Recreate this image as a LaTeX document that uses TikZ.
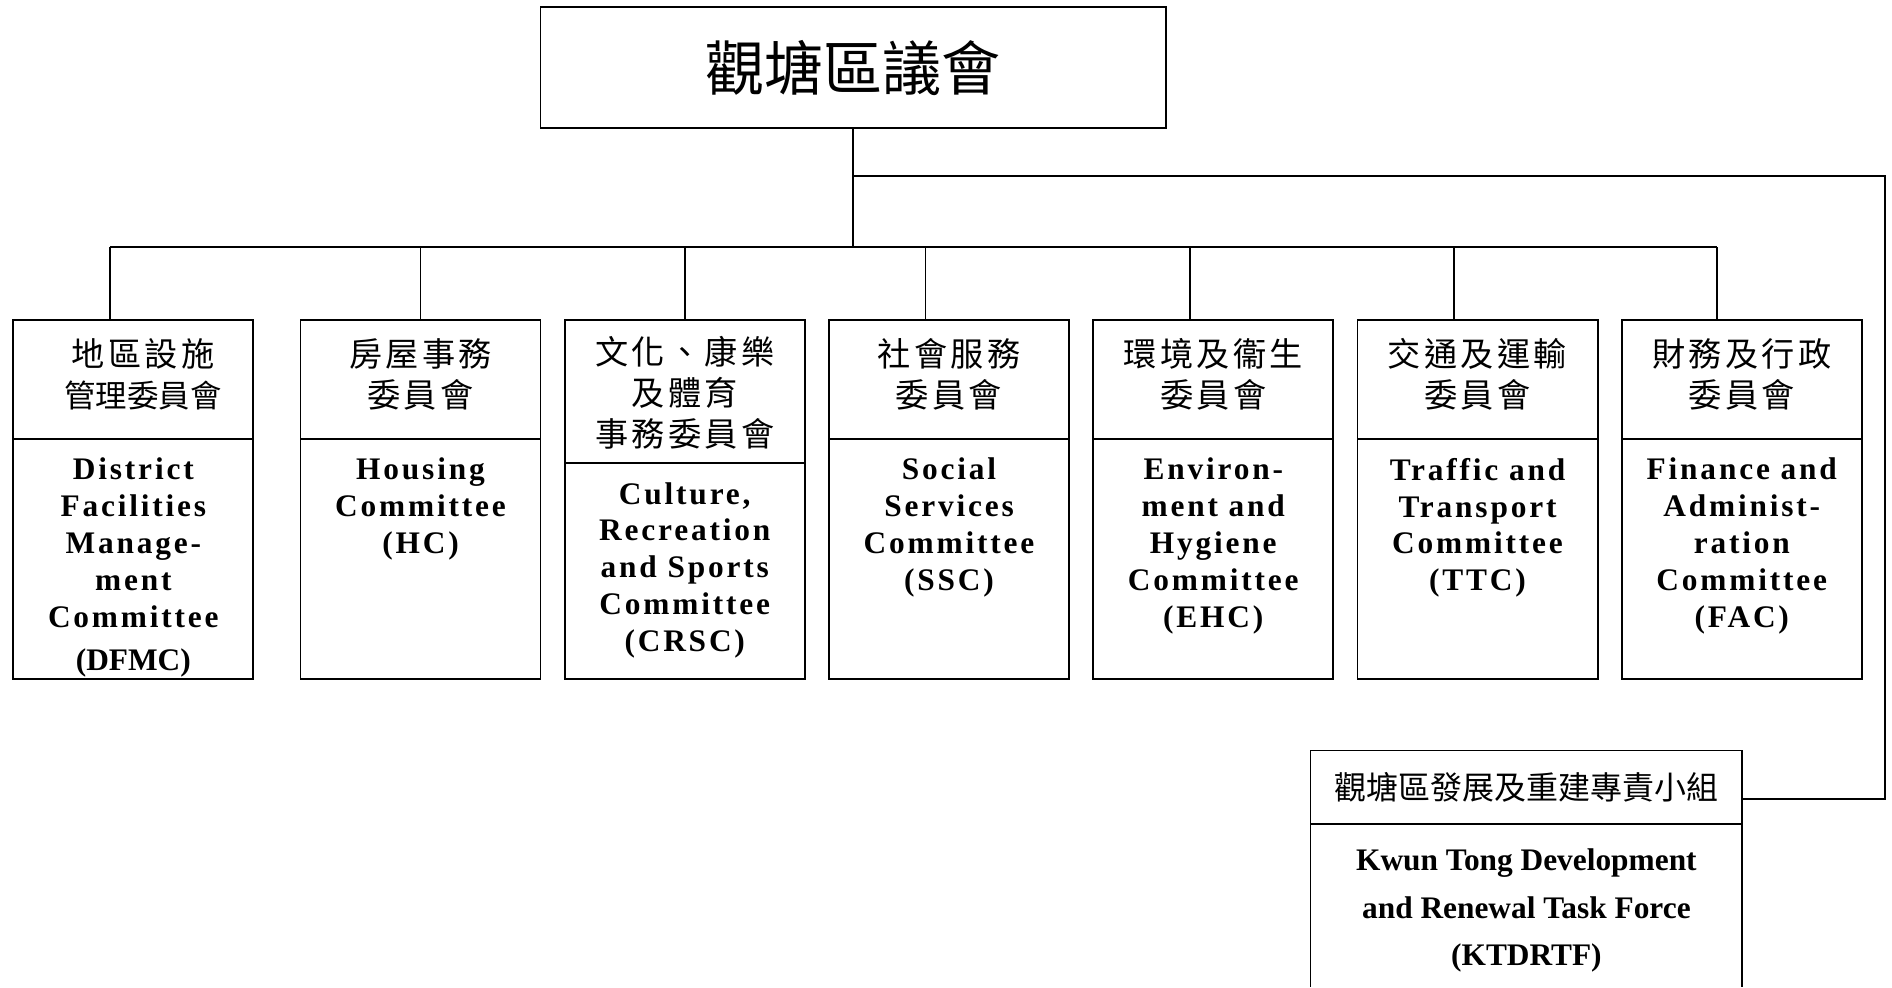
\documentclass[tikz,border=0pt]{standalone}
\usepackage{fontspec}
\setmainfont{Liberation Serif}
\newfontfamily\zhfont{Noto Sans CJK TC}
\newfontfamily\zhspaced[LetterSpace=10]{Noto Sans CJK TC}
\newfontfamily\enspaced[LetterSpace=9]{Liberation Serif}
\usetikzlibrary{positioning}

\begin{document}
\begin{tikzpicture}[
  x=1pt, y=-1pt, line width=1.5pt,
  head/.style={draw, outer sep=0pt, inner sep=0pt, minimum width=199pt,
               minimum height=99pt, align=center, text depth=11pt,
               font=\fontsize{27.5}{34}\selectfont\zhspaced},
  body/.style={draw, outer sep=0pt, minimum width=199pt, minimum height=199pt},
  entext/.style={anchor=north, inner sep=0pt, align=center,
                 font=\fontsize{26}{30.5}\selectfont\enspaced\bfseries}
]
  \useasboundingbox (0,0) rectangle (1568,818);

  % Council
  \node[draw, outer sep=0pt, minimum width=518pt, minimum height=100pt,
        font=\fontsize{49}{56}\selectfont\zhfont] (council) at (707,56) {觀塘區議會};

  % Committees (upper part)
  \node[head, anchor=north] (dfmc) at (110.5,265)
    {\hspace*{16pt}地區設施\\\hspace*{16pt}{\fontsize{26}{34}\selectfont\zhfont 管理委員會}};
  \node[head, right=39pt of dfmc.north east, anchor=north west] (hc) {房屋事務\\委員會};
  \node[head, minimum height=119pt, text depth=1pt, right=20pt of hc.north east,
        anchor=north west] (crsc) {文化、康樂\\及體育\\事務委員會};
  \node[head, right=20pt of crsc.north east, anchor=north west] (ssc) {社會服務\\委員會};
  \node[head, right=20pt of ssc.north east, anchor=north west] (ehc) {環境及衞生\\委員會};
  \node[head, right=20pt of ehc.north east, anchor=north west] (ttc) {交通及運輸\\委員會};
  \node[head, right=20pt of ttc.north east, anchor=north west] (fac) {財務及行政\\委員會};

  % Committees (lower part)
  \node[body, below=0pt of dfmc] (dfmcb) {};
  \node[body, below=0pt of hc] (hcb) {};
  \node[body, minimum height=179pt, below=0pt of crsc] (crscb) {};
  \node[body, below=0pt of ssc] (sscb) {};
  \node[body, below=0pt of ehc] (ehcb) {};
  \node[body, below=0pt of ttc] (ttcb) {};
  \node[body, below=0pt of fac] (facb) {};

  % English names
  \node[entext] (dfmct) at ([yshift=-15pt]dfmcb.north)
    {District\\Facilities\\Manage-\\ment\\Committee\\[5.5pt]{\rmfamily (DFMC)}};
  \node[entext] (hct) at ([yshift=-15pt]hcb.north) {Housing\\Committee\\(HC)};
  \node[entext] (crsct) at ([yshift=-15pt]crscb.north)
    {Culture,\\Recreation\\and Sports\\Committee\\(CRSC)};
  \node[entext] (ssct) at ([yshift=-15pt]sscb.north) {Social\\Services\\Committee\\(SSC)};
  \node[entext] (ehct) at ([yshift=-15pt]ehcb.north)
    {Environ-\\ment and\\Hygiene\\Committee\\(EHC)};
  \node[entext] (ttct) at ([yshift=-15pt]ttcb.north)
    {Traffic and\\Transport\\Committee\\(TTC)};
  \node[entext] (fact) at ([yshift=-15pt]facb.north)
    {Finance and\\Administ-\\ration\\Committee\\(FAC)};

  % Task force
  \node[draw, outer sep=0pt, minimum width=358pt, minimum height=61pt,
        font=\fontsize{26.5}{30}\selectfont\zhfont] (kthead) at (1265,652.5)
    {觀塘區發展及重建專責小組};
  \node[outer sep=0pt, minimum width=358pt, minimum height=135pt, below=0pt of kthead] (ktbody) {};
  \draw (ktbody.north west) -- (ktbody.south west);
  \draw (ktbody.north east) -- (ktbody.south east);
  \node[entext, font=\fontsize{26}{39}\selectfont\bfseries] (ktt) at ([yshift=-20pt]ktbody.north)
    {Kwun Tong Development\\and Renewal Task Force\\(KTDRTF)};

  % Connectors
  \coordinate (busL) at (91,205);
  \coordinate (busR) at (1423,205);
  \coordinate (tfjoin) at (707,146);
  \coordinate (tfturn) at (1562,146);

  \draw (council.south) -- (council.south |- busL);
  \draw (busL) -- (busR);
  \draw (busL) -- (busL |- dfmc.north);
  \draw (hc.north) -- (hc.north |- busL);
  \draw (crsc.north) -- (crsc.north |- busL);
  \draw ([xshift=-19.5pt]ssc.north) -- ([xshift=-19.5pt]ssc.north |- busL);
  \draw ([xshift=-19.5pt]ehc.north) -- ([xshift=-19.5pt]ehc.north |- busL);
  \draw ([xshift=-19.5pt]ttc.north) -- ([xshift=-19.5pt]ttc.north |- busL);
  \draw (busR) -- (busR |- fac.north);
  \draw (tfjoin) -- (tfturn) |- ([yshift=-9.5pt]kthead.east);
\end{tikzpicture}
\end{document}
